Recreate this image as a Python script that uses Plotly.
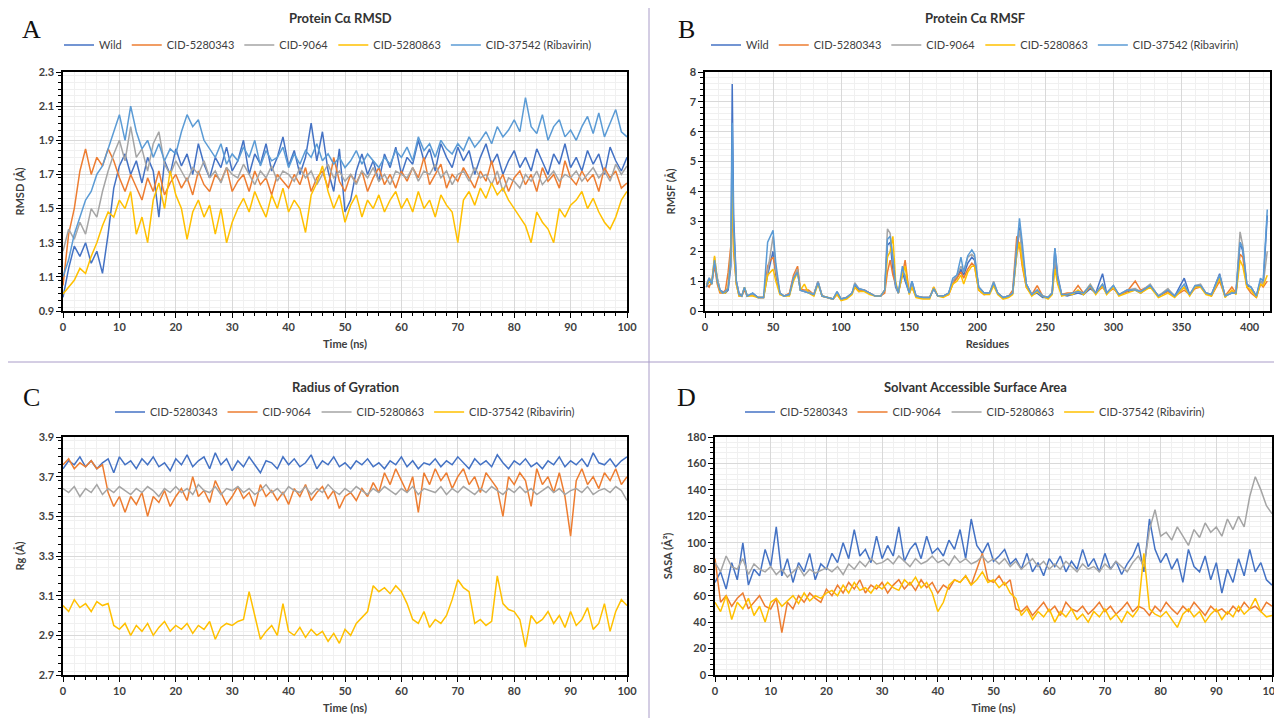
import plotly.graph_objects as go

# ---------------- DATA ----------------
time_ns = list(range(0, 101))

rmsd_wild = [0.98,1.15,1.28,1.22,1.3,1.18,1.25,1.12,1.35,1.62,1.75,
             1.82,1.7,1.78,1.65,1.8,1.72,1.45,1.78,1.7,1.85,
             1.75,1.82,1.7,1.88,1.76,1.68,1.8,1.74,1.86,1.72,
             1.78,1.9,1.7,1.82,1.76,1.88,1.72,1.8,1.92,1.75,
             1.84,1.7,1.8,2.0,1.78,1.95,1.72,1.6,1.85,1.48,
             1.55,1.72,1.82,1.7,1.78,1.66,1.82,1.74,1.86,1.7,
             1.8,1.76,1.9,1.78,1.85,1.72,1.88,1.8,1.74,1.86,
             1.78,1.84,1.7,1.8,1.88,1.76,1.82,1.7,1.78,1.84,
             1.74,1.8,1.72,1.85,1.78,1.7,1.82,1.76,1.88,1.74,
             1.8,1.72,1.84,1.76,1.82,1.7,1.86,1.78,1.72,1.8]
rmsd_5280343 = [1.05,1.35,1.5,1.72,1.85,1.7,1.8,1.75,1.85,1.78,1.68,
                1.6,1.7,1.62,1.55,1.68,1.6,1.72,1.58,1.65,1.7,
                1.62,1.68,1.58,1.72,1.64,1.6,1.7,1.66,1.74,1.6,
                1.66,1.7,1.6,1.72,1.64,1.68,1.58,1.7,1.66,1.62,
                1.7,1.64,1.74,1.6,1.68,1.72,1.62,1.8,1.66,1.6,
                1.7,1.65,1.72,1.6,1.68,1.74,1.64,1.7,1.62,1.72,
                1.66,1.74,1.68,1.8,1.64,1.7,1.76,1.62,1.7,1.66,
                1.74,1.68,1.62,1.72,1.66,1.78,1.64,1.7,1.6,1.68,
                1.72,1.64,1.7,1.6,1.74,1.66,1.7,1.62,1.78,1.68,
                1.64,1.72,1.66,1.7,1.6,1.74,1.68,1.72,1.62,1.65]
rmsd_9064 = [1.25,1.38,1.32,1.42,1.35,1.5,1.45,1.6,1.72,1.82,1.9,
             1.78,1.98,1.8,1.85,1.72,1.88,1.95,1.76,1.7,1.78,
             1.72,1.66,1.74,1.7,1.78,1.68,1.72,1.65,1.74,1.7,
             1.68,1.76,1.7,1.64,1.72,1.68,1.75,1.66,1.72,1.7,
             1.66,1.74,1.68,1.72,1.64,1.7,1.76,1.68,1.72,1.66,
             1.7,1.64,1.72,1.68,1.74,1.66,1.7,1.64,1.72,1.7,
             1.68,1.74,1.66,1.72,1.7,1.76,1.68,1.72,1.64,1.7,
             1.72,1.66,1.74,1.68,1.7,1.64,1.72,1.6,1.68,1.66,
             1.62,1.7,1.66,1.72,1.64,1.68,1.72,1.66,1.7,1.68,
             1.72,1.66,1.7,1.74,1.68,1.72,1.66,1.76,1.7,1.75]
rmsd_5280863 = [1.0,1.04,1.08,1.15,1.12,1.22,1.3,1.4,1.48,1.45,1.55,
                1.5,1.6,1.35,1.45,1.3,1.55,1.65,1.5,1.72,1.58,
                1.5,1.32,1.48,1.55,1.45,1.52,1.35,1.5,1.3,1.42,
                1.5,1.56,1.48,1.6,1.52,1.45,1.58,1.5,1.62,1.48,
                1.55,1.5,1.36,1.58,1.65,1.75,1.6,1.5,1.58,1.42,
                1.52,1.58,1.45,1.55,1.5,1.58,1.48,1.55,1.6,1.5,
                1.56,1.48,1.6,1.5,1.55,1.45,1.58,1.52,1.48,1.3,
                1.55,1.6,1.52,1.62,1.56,1.65,1.58,1.62,1.55,1.5,
                1.45,1.4,1.3,1.48,1.42,1.38,1.3,1.5,1.45,1.52,
                1.55,1.6,1.5,1.56,1.48,1.42,1.38,1.45,1.55,1.6]
rmsd_37542 = [1.1,1.2,1.35,1.45,1.55,1.6,1.7,1.75,1.85,1.95,2.05,
              1.9,2.1,1.95,1.85,1.9,1.8,1.88,1.78,1.85,1.82,
              1.95,2.05,1.98,2.02,1.9,1.85,1.8,1.88,1.76,1.82,
              1.78,1.86,1.8,1.9,1.75,1.84,1.78,1.8,1.86,1.74,
              1.82,1.76,1.84,1.8,1.88,1.78,1.82,1.76,1.8,1.74,
              1.78,1.84,1.76,1.82,1.78,1.74,1.8,1.76,1.84,1.8,
              1.86,1.78,1.92,1.84,1.88,1.8,1.9,1.85,1.82,1.88,
              1.84,1.92,1.86,1.9,1.95,1.88,1.98,1.92,1.96,2.02,
              1.95,2.15,1.98,1.94,2.05,1.9,1.98,2.02,1.92,1.96,
              1.9,1.98,2.04,1.94,2.06,1.92,2.0,2.08,1.95,1.92]

residues = [1,3,5,7,9,11,13,15,17,19,
            20,21,23,25,27,29,31,35,39,43,
            46,48,50,52,55,58,62,65,68,70,
            73,76,80,83,86,90,94,97,100,104,
            108,110,113,117,121,125,129,132,134,136,
            138,140,142,145,147,150,152,155,160,165,
            168,171,175,179,182,185,188,190,193,196,
            198,201,205,209,212,215,219,223,226,229,
            231,233,236,240,244,248,252,255,257,259,
            262,266,270,274,278,283,287,292,295,300,
            304,310,316,320,327,333,340,345,352,356,
            360,364,368,372,378,382,387,390,393,395,
            398,401,405,408,410,413]
rmsf_wild = [0.8,1.0,0.9,1.6,1.1,0.7,0.65,0.6,0.7,1.5,
             7.6,3.2,1.0,0.6,0.5,0.75,0.5,0.6,0.45,0.45,
             1.2,1.6,2.0,1.2,0.6,0.5,0.55,1.1,1.35,0.7,
             0.65,0.6,0.55,1.0,0.5,0.45,0.4,0.6,0.4,0.45,
             0.6,0.85,0.7,0.7,0.6,0.5,0.5,0.7,2.2,2.3,
             1.4,0.8,0.6,1.3,1.0,0.6,1.0,0.5,0.45,0.45,
             0.75,0.5,0.5,0.6,1.0,1.1,1.4,1.2,1.6,1.8,
             1.7,0.8,0.6,0.6,0.9,0.6,0.45,0.5,0.6,1.8,
             2.8,2.0,0.9,0.55,0.6,0.45,0.45,0.6,2.1,1.2,
             0.55,0.5,0.55,0.6,0.55,0.75,0.6,1.25,0.6,0.8,
             0.55,0.65,0.7,0.6,0.85,0.5,0.7,0.5,1.1,0.55,
             0.8,0.85,0.6,0.55,1.25,0.5,0.6,0.6,2.3,2.0,
             0.85,0.8,0.5,1.0,0.9,3.2]
rmsf_5280343 = [0.9,0.8,1.0,1.5,0.9,0.6,0.6,0.7,1.3,2.2,
                3.4,2.0,0.9,0.5,0.5,0.7,0.5,0.55,0.45,0.45,
                1.5,1.7,1.8,1.3,0.6,0.5,0.6,1.2,1.5,0.75,
                0.7,0.7,0.55,0.95,0.5,0.45,0.4,0.55,0.4,0.45,
                0.6,0.8,0.65,0.7,0.6,0.5,0.5,0.6,1.3,1.7,
                1.2,0.9,0.6,1.2,1.7,0.6,0.8,0.5,0.45,0.45,
                0.8,0.5,0.5,0.55,0.9,1.1,1.3,1.1,1.4,1.6,
                1.5,0.7,0.55,0.6,0.9,0.6,0.45,0.5,0.7,2.5,
                2.2,1.5,0.8,0.55,0.85,0.5,0.45,0.6,1.6,1.0,
                0.55,0.6,0.6,0.85,0.6,0.8,0.6,0.8,0.6,0.75,
                0.55,0.65,1.0,0.7,0.85,0.5,0.65,0.5,0.7,0.55,
                0.75,0.8,0.6,0.5,1.0,0.5,0.8,0.6,1.9,1.8,
                0.8,0.6,0.45,0.9,0.8,1.0]
rmsf_9064 = [0.9,1.1,1.0,1.8,1.1,0.7,0.6,0.65,0.8,2.0,
             4.5,2.5,1.0,0.55,0.5,0.8,0.5,0.55,0.45,0.45,
             1.3,1.9,2.5,1.4,0.6,0.5,0.55,1.1,1.4,0.7,
             0.65,0.65,0.55,1.0,0.5,0.45,0.4,0.65,0.4,0.45,
             0.6,0.95,0.75,0.7,0.6,0.5,0.5,0.7,2.75,2.6,
             1.7,0.9,0.6,1.3,1.2,0.6,0.9,0.5,0.45,0.45,
             0.75,0.5,0.5,0.6,1.0,1.2,1.5,1.3,1.8,1.9,
             1.8,0.8,0.6,0.6,1.0,0.6,0.45,0.5,0.6,2.2,
             2.7,1.9,0.9,0.55,0.7,0.5,0.45,0.6,1.8,1.1,
             0.55,0.55,0.6,0.65,0.6,0.9,0.6,0.9,0.6,0.85,
             0.55,0.7,0.75,0.65,0.9,0.5,0.75,0.5,0.8,0.55,
             0.85,0.9,0.6,0.55,1.2,0.5,0.65,0.6,2.65,2.2,
             0.9,0.8,0.5,1.0,0.9,2.0]
rmsf_5280863 = [0.85,1.0,0.9,1.85,1.0,0.65,0.6,0.6,0.8,1.8,
                4.2,2.2,0.9,0.5,0.5,0.8,0.5,0.5,0.45,0.45,
                1.2,1.3,1.4,1.0,0.55,0.5,0.5,1.0,1.3,0.7,
                0.9,0.6,0.5,0.9,0.5,0.45,0.4,0.55,0.35,0.4,
                0.55,0.8,0.65,0.65,0.55,0.5,0.5,0.7,1.8,2.0,
                2.5,1.0,0.6,1.2,1.5,0.55,0.8,0.45,0.4,0.4,
                0.8,0.5,0.45,0.55,0.9,1.0,1.2,0.9,1.3,1.5,
                1.5,0.7,0.55,0.55,0.85,0.55,0.4,0.45,0.55,1.9,
                2.3,1.6,0.8,0.5,0.65,0.5,0.4,0.55,1.4,0.9,
                0.5,0.55,0.55,0.7,0.55,0.85,0.55,0.85,0.55,0.8,
                0.5,0.6,0.7,0.6,0.8,0.45,0.6,0.45,0.8,0.5,
                0.8,0.8,0.55,0.5,1.1,0.45,0.7,0.55,1.7,1.5,
                0.8,0.7,0.45,0.9,0.85,1.2]
rmsf_37542 = [0.8,1.1,0.9,1.7,1.0,0.7,0.6,0.65,0.75,1.8,
              6.3,2.8,1.0,0.55,0.5,0.8,0.5,0.6,0.45,0.45,
              2.3,2.5,2.7,1.6,0.6,0.5,0.55,1.1,1.3,0.7,
              0.65,0.6,0.55,0.95,0.5,0.45,0.4,0.65,0.4,0.45,
              0.6,0.9,0.75,0.7,0.6,0.5,0.5,0.7,2.4,2.5,
              1.8,0.9,0.6,1.5,1.1,0.6,1.0,0.5,0.45,0.45,
              0.75,0.5,0.5,0.6,1.1,1.2,1.8,1.3,1.85,2.05,
              1.9,0.8,0.6,0.6,0.95,0.6,0.45,0.5,0.6,2.0,
              3.1,2.3,0.9,0.55,0.7,0.5,0.45,0.6,2.1,1.1,
              0.55,0.55,0.6,0.65,0.6,0.85,0.6,0.9,0.6,0.85,
              0.55,0.7,0.7,0.65,0.85,0.5,0.7,0.5,0.9,0.55,
              0.85,0.85,0.6,0.55,1.2,0.5,0.6,0.6,2.3,2.1,
              0.9,0.8,0.5,1.1,1.0,3.4]

rg_5280343 = [3.74,3.78,3.76,3.8,3.75,3.78,3.74,3.77,3.79,3.72,3.8,
              3.76,3.78,3.74,3.79,3.76,3.8,3.75,3.77,3.73,3.79,
              3.76,3.81,3.75,3.78,3.8,3.74,3.82,3.76,3.79,3.73,
              3.78,3.75,3.8,3.76,3.72,3.78,3.77,3.74,3.8,3.76,
              3.79,3.75,3.77,3.81,3.74,3.78,3.76,3.8,3.75,3.77,
              3.74,3.78,3.76,3.79,3.75,3.77,3.74,3.78,3.76,3.8,
              3.75,3.78,3.74,3.77,3.76,3.79,3.75,3.78,3.76,3.8,
              3.77,3.74,3.79,3.76,3.78,3.75,3.81,3.77,3.74,3.78,
              3.76,3.79,3.75,3.77,3.74,3.78,3.76,3.8,3.75,3.78,
              3.76,3.79,3.75,3.82,3.77,3.76,3.79,3.75,3.78,3.8]
rg_9064 = [3.76,3.79,3.74,3.77,3.75,3.78,3.74,3.76,3.62,3.55,3.6,
           3.52,3.6,3.56,3.62,3.5,3.6,3.57,3.63,3.55,3.6,
           3.64,3.58,3.7,3.6,3.63,3.57,3.68,3.62,3.56,3.6,
           3.65,3.59,3.62,3.55,3.66,3.6,3.63,3.58,3.62,3.56,
           3.64,3.6,3.66,3.58,3.62,3.65,3.59,3.63,3.54,3.6,
           3.62,3.58,3.64,3.6,3.67,3.62,3.72,3.66,3.74,3.68,
           3.62,3.7,3.52,3.72,3.66,3.74,3.68,3.72,3.64,3.7,
           3.74,3.66,3.7,3.62,3.72,3.68,3.64,3.5,3.7,3.66,
           3.72,3.68,3.55,3.74,3.66,3.7,3.62,3.72,3.6,3.4,
           3.68,3.74,3.66,3.7,3.64,3.72,3.68,3.74,3.66,3.7]
rg_5280863 = [3.64,3.62,3.65,3.6,3.64,3.62,3.66,3.61,3.64,3.62,3.65,
              3.63,3.61,3.64,3.62,3.65,3.63,3.6,3.64,3.62,3.65,
              3.62,3.64,3.61,3.66,3.63,3.62,3.65,3.61,3.64,3.63,
              3.65,3.62,3.64,3.61,3.63,3.66,3.62,3.64,3.61,3.65,
              3.63,3.62,3.65,3.61,3.64,3.62,3.66,3.63,3.61,3.64,
              3.62,3.65,3.63,3.61,3.64,3.62,3.65,3.63,3.61,3.64,
              3.62,3.65,3.61,3.64,3.63,3.62,3.65,3.61,3.64,3.62,
              3.65,3.63,3.61,3.64,3.62,3.65,3.63,3.61,3.64,3.62,
              3.65,3.62,3.64,3.61,3.63,3.65,3.62,3.64,3.61,3.63,
              3.64,3.62,3.65,3.61,3.63,3.64,3.62,3.65,3.63,3.58]
rg_37542 = [3.05,3.02,3.08,3.04,3.06,3.02,3.07,3.05,3.06,2.95,2.93,
            2.96,2.9,2.95,2.92,2.96,2.9,2.94,2.97,2.92,2.95,
            2.93,2.96,2.91,2.95,2.93,2.97,2.88,2.94,2.96,2.95,
            2.97,2.98,3.12,3.0,2.88,2.92,2.95,2.9,3.06,2.92,
            2.9,2.94,2.89,2.93,2.9,2.92,2.87,2.91,2.86,2.93,
            2.9,2.96,2.99,3.02,3.15,3.12,3.14,3.11,3.15,3.12,
            3.06,2.98,2.96,3.02,2.94,2.98,2.96,3.0,3.08,3.18,
            3.14,3.12,2.96,2.98,2.95,2.97,3.2,3.06,3.03,3.02,
            2.98,2.84,3.0,2.96,2.98,3.02,2.96,3.0,2.94,3.02,
            2.95,2.98,3.04,2.93,2.96,3.06,2.92,3.02,3.08,3.05]

sasa_5280343 = [70,78,65,85,72,100,68,80,75,95,82,
                112,75,88,70,85,78,92,72,84,80,
                92,85,100,88,110,90,95,85,105,88,
                98,90,112,86,95,100,88,105,92,96,
                90,102,95,110,88,118,98,92,100,86,
                90,95,84,88,80,92,78,85,75,88,
                82,90,78,86,80,95,82,88,78,92,
                80,86,76,84,90,100,78,118,95,85,
                92,80,88,70,95,82,78,90,72,85,
                62,80,70,88,75,95,78,85,72,68]
sasa_9064 = [88,55,60,52,58,62,50,55,60,52,50,
             58,32,55,50,60,55,62,58,55,65,
             60,68,62,70,65,72,62,68,65,70,
             62,68,72,65,70,64,72,66,70,62,
             68,65,72,70,75,68,80,92,72,70,
             75,68,72,50,48,52,45,50,55,48,
             52,45,55,50,48,52,46,50,55,48,
             52,46,50,55,48,52,50,45,52,48,
             55,50,46,52,48,55,50,45,52,48,
             50,46,52,48,55,50,52,48,55,52]
sasa_5280863 = [85,78,90,82,80,88,76,84,80,78,82,
                76,80,74,78,82,75,80,77,79,81,
                78,82,76,84,80,86,82,88,84,85,
                88,84,90,86,82,88,84,86,90,85,
                87,83,90,85,88,84,86,90,85,88,
                84,88,82,86,80,84,88,82,86,80,
                84,80,86,82,78,84,80,82,78,84,
                80,86,82,78,85,90,82,110,125,105,
                108,102,112,105,98,110,104,115,108,112,
                105,118,110,120,112,135,150,140,128,122]
sasa_37542 = [55,48,60,42,55,50,58,45,52,40,55,
              58,52,56,60,54,62,56,60,58,62,
              64,60,68,62,70,64,66,62,68,65,
              70,66,64,72,68,74,66,70,62,48,
              55,68,72,70,75,68,72,78,70,72,
              66,70,62,58,45,50,42,48,44,50,
              40,48,44,50,42,46,40,48,44,50,
              42,46,40,48,44,50,92,50,46,44,
              48,42,36,46,50,44,48,40,46,50,
              42,48,44,52,46,50,58,48,44,45]

names_ab = ["Wild", "CID-5280343", "CID-9064", "CID-5280863", "CID-37542 (Ribavirin)"]
names_cd = ["CID-5280343", "CID-9064", "CID-5280863", "CID-37542 (Ribavirin)"]
colors_ab = ["#4472C4", "#ED7D31", "#A5A5A5", "#FFC000", "#5B9BD5"]
colors_cd = ["#4472C4", "#ED7D31", "#A5A5A5", "#FFC000"]

# ---------------- FIGURE ----------------
OFF = 8                      # page body margin
W, H = 1282 - OFF, 718 - OFF
def px(x): return (x - OFF) / W
def py(y): return 1 - (y - OFF) / H

fig = go.Figure()

def add_series(xs, ys_list, names, colors, xa, ya, legend):
    for ys, n, c in zip(ys_list, names, colors):
        fig.add_trace(go.Scatter(x=xs, y=ys, mode="lines", name=n,
                                 line=dict(color=c, width=1.5),
                                 xaxis=xa, yaxis=ya, legend=legend))

add_series(time_ns, [rmsd_wild, rmsd_5280343, rmsd_9064, rmsd_5280863, rmsd_37542],
           names_ab, colors_ab, "x", "y", "legend")
add_series(residues, [rmsf_wild, rmsf_5280343, rmsf_9064, rmsf_5280863, rmsf_37542],
           names_ab, colors_ab, "x2", "y2", "legend2")
add_series(time_ns, [rg_5280343, rg_9064, rg_5280863, rg_37542],
           names_cd, colors_cd, "x3", "y3", "legend3")
add_series(time_ns, [sasa_5280343, sasa_9064, sasa_5280863, sasa_37542],
           names_cd, colors_cd, "x4", "y4", "legend4")

FONT = "Lato"
tickfont = dict(family=FONT, size=11, color="#404040", weight="bold")
titlefont = dict(family=FONT, size=11, color="#404040", weight="bold")

def axis(domain, rng, dtick, minor, anchor, title, standoff):
    return dict(domain=domain, range=rng, dtick=dtick, tick0=rng[0], anchor=anchor,
                automargin=False, ticklabeloverflow="allow",
                showline=True, linecolor="black", linewidth=1.5, mirror=True,
                ticks="outside", ticklen=5, tickcolor="black", tickwidth=1.2,
                showgrid=True, gridcolor="#d9d9d9", gridwidth=1,
                minor=dict(dtick=minor, ticks="outside", ticklen=3, tickcolor="black",
                           showgrid=True, gridcolor="#f0f0f0", gridwidth=1),
                zeroline=False, tickfont=tickfont,
                title=dict(text=title, font=titlefont, standoff=standoff))

xl = [px(63), px(627)]
xr_b = [px(705), px(1270)]
xr_d = [px(715), px(1272)]
yt = [py(311), py(72)]
yb = [py(675), py(437)]

fig.update_layout(
    width=W, height=H, margin=dict(l=0, r=0, t=0, b=0),
    paper_bgcolor="white", plot_bgcolor="white",
    xaxis=axis(xl, [0, 100], 10, 2, "y", "Time (ns)", 8),
    yaxis=axis(yt, [0.9, 2.3], 0.2, 0.04, "x", "RMSD (Å)", 12),
    xaxis2=axis(xr_b, [0, 415], 50, 10, "y2", "Residues", 8),
    yaxis2=axis(yt, [0, 8], 1, 0.2, "x2", "RMSF (Å)", 12),
    xaxis3=axis(xl, [0, 100], 10, 2, "y3", "Time (ns)", 8),
    yaxis3=axis(yb, [2.7, 3.9], 0.2, 0.04, "x3", "Rg (Å)", 12),
    xaxis4=axis(xr_d, [0, 100], 10, 2, "y4", "Time (ns)", 8),
    yaxis4=axis(yb, [0, 180], 20, 4, "x4", "SASA (Å²)", 12),
    showlegend=True,
)

legend_style = dict(orientation="h", xanchor="center", yanchor="middle",
                    font=dict(family=FONT, size=11, color="#404040"),
                    bgcolor="rgba(0,0,0,0)", itemwidth=30, tracegroupgap=0)
fig.update_layout(
    legend=dict(x=px(328), y=py(45), **legend_style),
    legend2=dict(x=px(975), y=py(45), **legend_style),
    legend3=dict(x=px(345), y=py(412), **legend_style),
    legend4=dict(x=px(975), y=py(412), **legend_style),
)

titles = [("Protein Cα RMSD", 340, 18), ("Protein Cα RMSF", 975, 18),
          ("Radius of Gyration", 345, 387), ("Solvant Accessible Surface Area", 975, 387)]
for t, x, y in titles:
    fig.add_annotation(text=t, x=px(x), y=py(y), xref="paper", yref="paper",
                       showarrow=False, xanchor="center", yanchor="middle",
                       font=dict(family=FONT, size=13, color="#333333", weight="bold"))

letters = [("A", 31, 30), ("B", 686, 30), ("C", 31, 397), ("D", 686, 397)]
for t, x, y in letters:
    fig.add_annotation(text=t, x=px(x), y=py(y), xref="paper", yref="paper",
                       showarrow=False, xanchor="center", yanchor="middle",
                       font=dict(family="Liberation Serif", size=26, color="#111111"))

sep = "#a99cc8"
fig.add_shape(type="line", xref="paper", yref="paper", x0=px(649), x1=px(649), y0=0, y1=1,
              line=dict(color=sep, width=1))
fig.add_shape(type="line", xref="paper", yref="paper", x0=0, x1=1, y0=py(362), y1=py(362),
              line=dict(color=sep, width=1))

fig.write_html("out.html")
